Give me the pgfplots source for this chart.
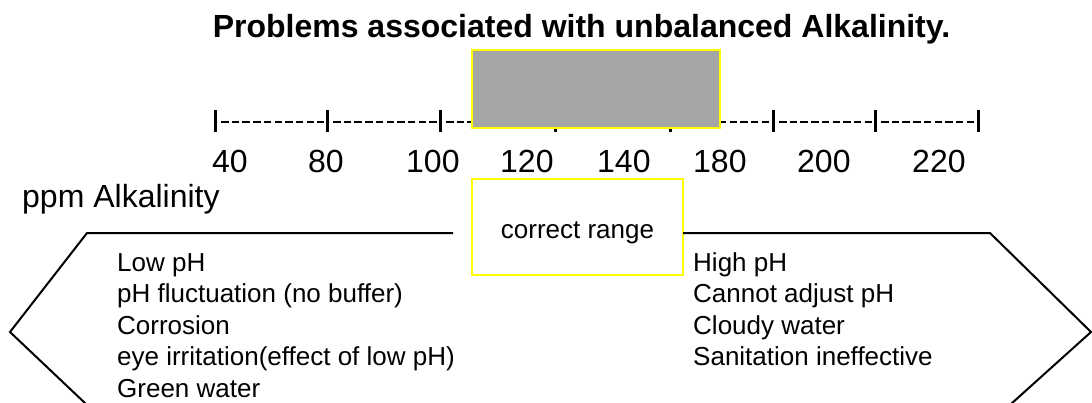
\documentclass[border=0pt]{standalone}
\usepackage{pgfplots}
\pgfplotsset{compat=1.18}
\usepackage{fontspec}
\setmainfont{Liberation Sans}
\definecolor{boxgray}{RGB}{166,166,166}
\definecolor{pureyellow}{RGB}{255,255,0}
\newcommand{\bigfont}{\fontsize{32bp}{38bp}\selectfont}
\newcommand{\listfont}{\fontsize{26bp}{30bp}\selectfont}
\begin{document}
\begin{tikzpicture}
\begin{axis}[
  width=1092bp, height=402bp, scale only axis,
  xmin=0, xmax=1092, ymin=0, ymax=402, y dir=reverse,
  hide axis, clip=true,
  unbounded coords=jump,
]
\path (rel axis cs:0,0) rectangle (rel axis cs:1,1);
% scale pipes
\addplot[black, line width=3bp, mark=none] coordinates {
 (215,110) (215,132) (nan,nan)
 (327,110) (327,132) (nan,nan)
 (440,110) (440,132) (nan,nan)
 (555,110) (555,132) (nan,nan)
 (670,110) (670,132) (nan,nan)
 (773,110) (773,132) (nan,nan)
 (875,110) (875,132) (nan,nan)
 (978,110) (978,132)
};
% scale dashes
\addplot[black, line width=2bp, mark=none, dash pattern=on 7.5bp off 3.2bp] coordinates {
 (221,122) (324,122) (nan,nan)
 (333,122) (437,122) (nan,nan)
 (446,122) (552,122) (nan,nan)
 (561,122) (667,122) (nan,nan)
 (676,122) (770,122) (nan,nan)
 (779,122) (872,122) (nan,nan)
 (881,122) (975,122)
};
% grey range bar
\addplot[fill=boxgray, draw=pureyellow, line width=2bp, mark=none] coordinates {
 (472,50) (720,50) (720,128) (472,128)
} -- cycle;
% correct range box
\addplot[fill=white, draw=pureyellow, line width=2bp, mark=none] coordinates {
 (472,179) (683,179) (683,275) (472,275)
} -- cycle;
% left arrow
\addplot[black, line width=2bp, mark=none] coordinates {
 (453,233) (87,233) (10,332) (86,404)
};
% right arrow
\addplot[black, line width=2bp, mark=none] coordinates {
 (683,233) (990,233) (1091,332) (1011,404)
};
% texts
\node[anchor=base] at (axis cs:581.5,37) {\bigfont\bfseries Problems associated with unbalanced Alkalinity.};
\node[anchor=base west, inner sep=0pt] at (axis cs:212,172) {\bigfont 40};
\node[anchor=base west, inner sep=0pt] at (axis cs:308,172) {\bigfont 80};
\node[anchor=base west, inner sep=0pt] at (axis cs:406,172) {\bigfont 100};
\node[anchor=base west, inner sep=0pt] at (axis cs:500,172) {\bigfont 120};
\node[anchor=base west, inner sep=0pt] at (axis cs:597,172) {\bigfont 140};
\node[anchor=base west, inner sep=0pt] at (axis cs:693,172) {\bigfont 180};
\node[anchor=base west, inner sep=0pt] at (axis cs:797,172) {\bigfont 200};
\node[anchor=base west, inner sep=0pt] at (axis cs:912,172) {\bigfont 220};
\node[anchor=base west, inner sep=0pt] at (axis cs:22,207) {\bigfont ppm Alkalinity};
\node[anchor=base, inner sep=0pt] at (axis cs:577.5,238) {\listfont correct range};
\node[anchor=base west, inner sep=0pt] at (axis cs:117,271) {\listfont Low pH};
\node[anchor=base west, inner sep=0pt] at (axis cs:117,302.5) {\listfont pH fluctuation (no buffer)};
\node[anchor=base west, inner sep=0pt] at (axis cs:117,334) {\listfont Corrosion};
\node[anchor=base west, inner sep=0pt] at (axis cs:117,365.5) {\listfont eye irritation(effect of low pH)};
\node[anchor=base west, inner sep=0pt] at (axis cs:117,397) {\listfont Green water};
\node[anchor=base west, inner sep=0pt] at (axis cs:693,271) {\listfont High pH};
\node[anchor=base west, inner sep=0pt] at (axis cs:693,302.5) {\listfont Cannot adjust pH};
\node[anchor=base west, inner sep=0pt] at (axis cs:693,334) {\listfont Cloudy water};
\node[anchor=base west, inner sep=0pt] at (axis cs:693,365.5) {\listfont Sanitation ineffective};
\end{axis}
\end{tikzpicture}
\end{document}
